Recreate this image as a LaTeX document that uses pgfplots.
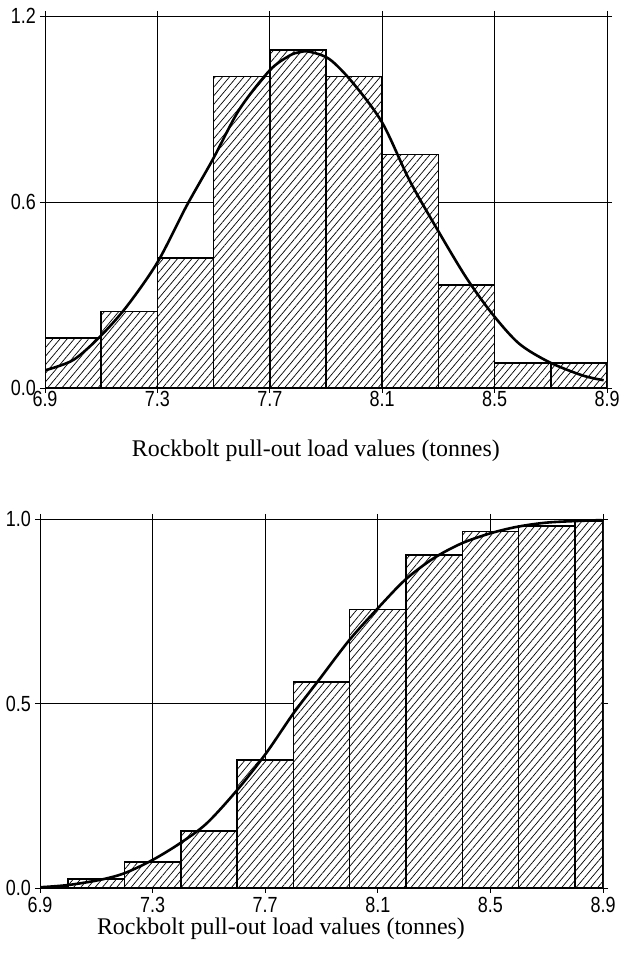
\documentclass[border=0pt]{standalone}
\usepackage{pgfplots}
\pgfplotsset{compat=1.18}
\usepackage{fontspec}
\setmainfont{Liberation Serif}
\newfontfamily\tickfont[FakeStretch=0.82]{Liberation Sans}
\usetikzlibrary{patterns.meta}

\begin{document}
\begin{tikzpicture}
\path[use as bounding box] (0,0) rectangle (619bp,958bp);
\pgfplotsset{
 common/.style={
  scale only axis, enlargelimits=false,
  axis line style={black, line width=0.8bp},
  grid=major, major grid style={black, line width=0.8bp},
  tick align=outside, tick style={black, line width=0.8bp},
  major tick length=5bp,
  xtick={6.9,7.3,7.7,8.1,8.5,8.9},
  xticklabels={6.9,7.3,7.7,8.1,8.5,8.9},
  tick label style={font=\tickfont\fontsize{22}{22}\selectfont, inner sep=0pt},
  yticklabel style={xshift=-4bp},
  xmin=6.9, xmax=8.9, ymin=0,
  xlabel style={font=\fontsize{24}{24}\selectfont, inner sep=0pt, anchor=north},
  xlabel={Rockbolt pull-out load values (tonnes)},
 },
 bars/.style={ybar interval, draw=black, line width=1.5bp, fill=white,
   postaction={pattern={Lines[angle=50,distance=5.5bp,line width=0.7bp]}}},
 curve/.style={black, line width=2.6bp, smooth, no markers},
}

% ---------- top: density ----------
\begin{axis}[common,
  at={(45bp,570bp)}, anchor=south west,
  width=562bp, height=372bp,
  ymax=1.2, ytick={0,0.6,1.2}, yticklabels={0.0,0.6,1.2},
  xticklabel style={yshift=2bp},
  xlabel style={at={(axis description cs:0.482,0)}, yshift=-52bp},
]
\addplot[bars] coordinates {
 (6.9,0.162) (7.1,0.246) (7.3,0.419) (7.5,1.005) (7.7,1.090)
 (7.9,1.005) (8.1,0.753) (8.3,0.332) (8.5,0.081) (8.7,0.081) (8.9,0.081)};
\addplot[curve] coordinates {
 (6.9,0.057) (7.0,0.090) (7.095,0.165) (7.19,0.262) (7.3,0.405)
 (7.403,0.586) (7.497,0.737) (7.592,0.899) (7.7,1.025) (7.77,1.072)
 (7.805,1.083) (7.84,1.085) (7.912,1.061) (7.995,0.985) (8.1,0.856)
 (8.196,0.672) (8.29,0.521) (8.397,0.359) (8.49,0.241) (8.586,0.144)
 (8.693,0.084) (8.811,0.041) (8.888,0.025)};
\end{axis}

% ---------- bottom: cumulative ----------
\begin{axis}[common,
  at={(40bp,70bp)}, anchor=south west,
  width=563bp, height=369bp,
  ymax=1.0, ytick={0,0.5,1}, yticklabels={0.0,0.5,1.0},
  xticklabel style={yshift=-4bp},
  xlabel style={at={(axis description cs:0.428,0)}, yshift=-30bp},
]
\addplot[bars] coordinates {
 (6.9,0.004) (7.0,0.024) (7.2,0.070) (7.4,0.154) (7.6,0.347) (7.8,0.558)
 (8.0,0.755) (8.2,0.902) (8.4,0.966) (8.6,0.981) (8.8,0.995) (8.9,0.995)};
\addplot[curve] coordinates {
 (6.9,0.002) (7.0,0.008) (7.113,0.022) (7.2,0.040) (7.3,0.076)
 (7.397,0.121) (7.492,0.175) (7.601,0.266) (7.703,0.365) (7.8,0.473)
 (7.895,0.568) (7.999,0.672) (8.1,0.758) (8.197,0.835) (8.297,0.893)
 (8.398,0.934) (8.499,0.961) (8.596,0.979) (8.712,0.991) (8.895,0.997)};
\end{axis}
\end{tikzpicture}
\end{document}
